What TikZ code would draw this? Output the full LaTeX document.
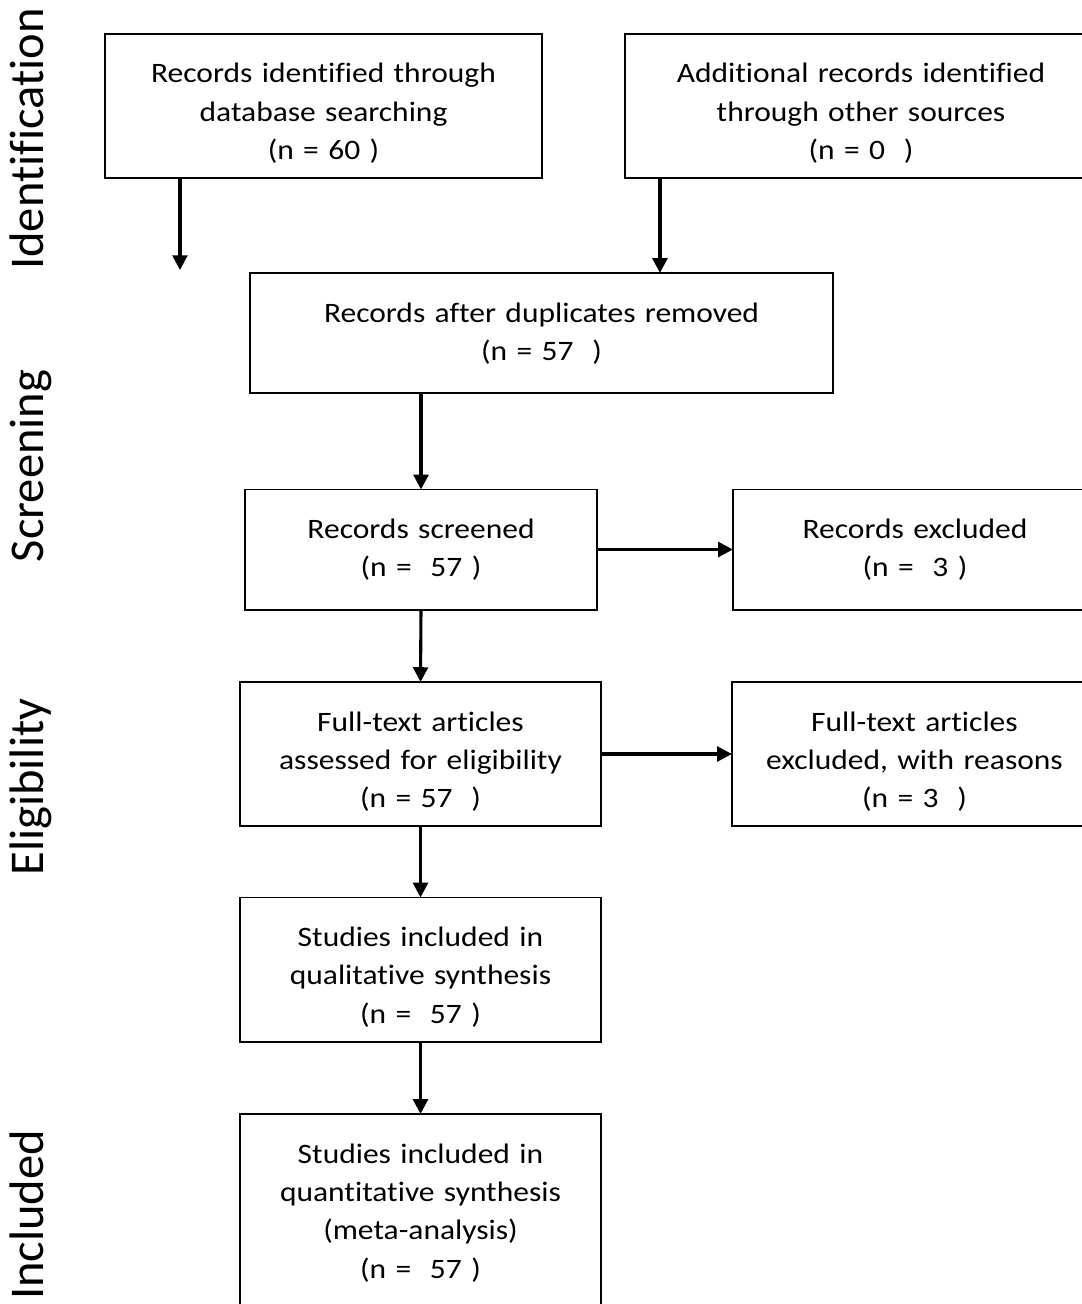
\documentclass[tikz,border=0pt]{standalone}
\usepackage{fontspec}
\setmainfont{Carlito}[Ligatures=NoCommon]
\newfontfamily\boxfont{Carlito}[FakeStretch=1.12, Ligatures=NoCommon]
\usetikzlibrary{arrows.meta}
\tikzset{
  every picture/.style={
    line join=miter,
    >={Triangle[length=10.5pt,width=10.5pt]},  % filled heads on every connector
  },
  % text hangs from the top edge, like a word-processor text box
  stage/.style={draw, line width=1.4pt, align=center, inner sep=0pt, outer sep=0pt,
    text height=1.225cm, font=\boxfont\fontsize{20pt}{27.3pt}\selectfont},
  phase/.style={rotate=90, anchor=base, font=\fontsize{34.5pt}{40pt}\selectfont},
  flow/.style={->, line width=2.2pt},
}

\begin{document}
\begin{tikzpicture}[x=0.025cm, y=-0.025cm]
    \useasboundingbox (0,0) rectangle (1081,1304);

    % Phase labels down the left side
    \node[phase] (ident) at (44,139) {Identification};
    \node[phase] (screen) at (44,466) {Screening};
    \node[phase] (elig) at (44,787) {Eligibility};
    \node[phase] (incl) at (44,1215) {Included};

    % Identification
    \node[stage, text width=10.925cm, text depth=2.375cm] (dbrec) at (323.5,106)
        {Records identified through\\database searching\\(n = 60 )};
    \node[stage, text width=11.8cm, text depth=2.375cm] (otherrec) at (861,106)
        {Additional records identified\\through other sources\\(n = 0\ \ )};
    \coordinate (dbdrop) at ([xshift=1.875cm]dbrec.south west);
    \coordinate (dbend) at ([yshift=-2.3cm]dbdrop);
    \coordinate (otherdrop) at ([xshift=0.875cm]otherrec.south west);

    % Screening
    \node[stage, text width=14.575cm, text depth=1.775cm] (dedup) at (541.5,333)
        {Records after duplicates removed\\(n = 57\ \ )};
    \node[stage, text width=8.8cm, text depth=1.775cm] (screened) at (421,549.5)
        {Records screened\\(n = \ 57 )};
    \node[stage, text width=9.1cm, text depth=1.775cm] (excl) at (915,549.5)
        {Records excluded\\(n = \ 3 )};

    % Eligibility
    \node[stage, text width=9.025cm, text depth=2.375cm] (fulltext) at (420.5,754)
        {Full-text articles\\assessed for eligibility\\(n = 57\ \ )};
    \node[stage, text width=9.125cm, text depth=2.375cm] (ftexcl) at (914.5,754)
        {Full-text articles\\excluded, with reasons\\(n = 3\ \ )};

    % Included
    \node[stage, text width=9.025cm, text depth=2.375cm] (qual) at (420.5,969.5)
        {Studies included in\\qualitative synthesis\\(n = \ 57 )};
    \node[stage, text width=9.025cm, text depth=3.925cm] (quant) at (420.5,1217)
        {Studies included in\\quantitative synthesis\\(meta-analysis)\\(n = \ 57 )};

    % Connectors
    \draw[flow] (dbdrop) -- (dbend);
    \draw[flow] (otherdrop) -- (otherdrop |- dedup.north);
    \draw[flow] (dedup.south -| screened.north) -- (screened.north);
    \draw[flow] (screened.east) -- (excl.west);
    \draw[flow] (screened.south) -- (fulltext.north);
    \draw[flow] (fulltext.east) -- (ftexcl.west);
    \draw[flow] (fulltext.south) -- (qual.north);
    \draw[flow] (qual.south) -- (quant.north);
\end{tikzpicture}
\end{document}
